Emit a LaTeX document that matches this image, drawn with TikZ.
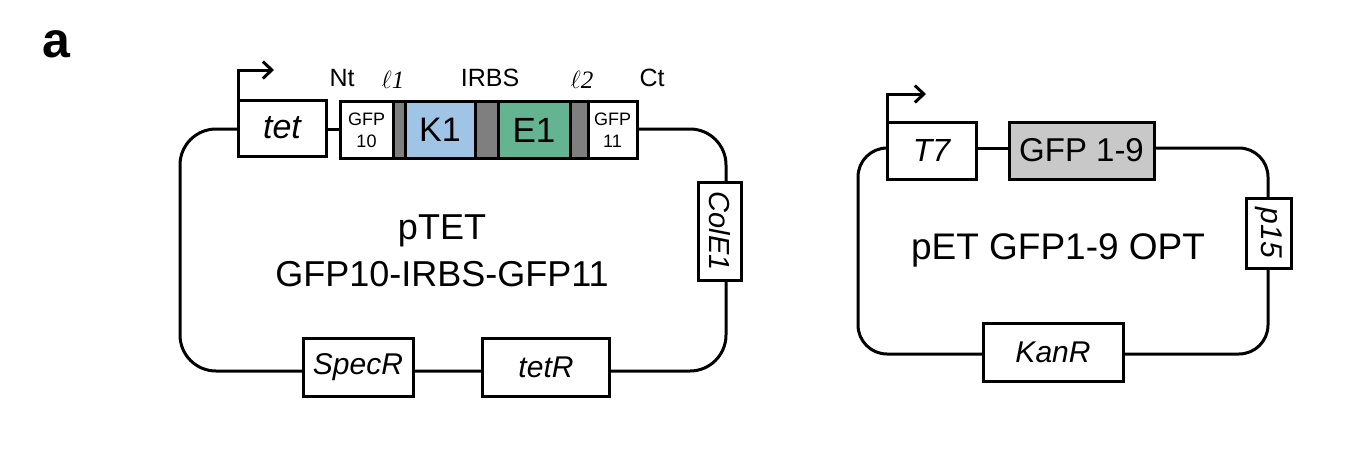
\documentclass[tikz,border=0pt]{standalone}
\usepackage{fontspec}
\setmainfont{Liberation Sans}
\newfontfamily\serifit{Liberation Serif}
\usetikzlibrary{arrows.meta}
\definecolor{kblue}{HTML}{A0C4E6}
\definecolor{egreen}{HTML}{64B491}
\definecolor{lgray}{HTML}{7F7F7F}
\definecolor{boxgray}{HTML}{C8C8C8}
\newcommand{\fs}[1]{\fontsize{#1}{#1}\selectfont}
\tikzset{
  bb/.style={line width=3pt, rounded corners=36pt},
  gbox/.style={draw, line width=3pt, fill=white, inner sep=0pt, font=\fs{30}\itshape},
  seg/.style={draw, line width=3pt, inner sep=0pt, minimum height=57pt},
  prom/.style={line width=3pt, -{Straight Barb[length=9pt,width=17pt,line width=3pt]}},
  lbl/.style={inner sep=0pt, font=\fs{25}},
}
\begin{document}
\begin{tikzpicture}[x=1pt,y=-1pt]
\useasboundingbox (0,0) rectangle (1370,466);
\node[font=\fs{50}\bfseries, inner sep=0pt] (a) at (56,44) {a};

% ---------- left plasmid ----------
\coordinate (L1) at (180,129);
\coordinate (L2) at (180,371);
\coordinate (L3) at (726,371);
\coordinate (L4) at (726,129);
\draw[bb] (282,129) -- (L1) -- (L2) -- (L3) -- (L4) -- (637,129);
\draw[line width=3pt] (326,129) -- (340,129);
\node[gbox, minimum width=88pt, minimum height=56pt, font=\fs{34}\itshape] (tet) at (282,128) {tet};
\node[seg, fill=white, minimum width=53pt, font=\fs{18}, align=center] (g10) at (366.5,130) {GFP\\[4pt]10};
\node[seg, fill=lgray, minimum width=12pt] (k1l) at (399,130) {};
\node[seg, fill=kblue, minimum width=70pt, font=\fs{34}] (k1) at (440,130) {K1};
\node[seg, fill=lgray, minimum width=23pt] (mid) at (486.5,130) {};
\node[seg, fill=egreen, minimum width=72pt, font=\fs{35}] (e1) at (534,130) {E1};
\node[seg, fill=lgray, minimum width=18pt] (e1r) at (579,130) {};
\node[seg, fill=white, minimum width=49pt, font=\fs{18}, align=center] (g11) at (612.5,130) {GFP\\[4pt]11};
\coordinate (tetarr) at (274,70);
\draw[prom] (tet.north west) ++(1.5,0) |- (tetarr);
\node[lbl] (nt) at (342,78) {Nt};
\node[lbl, font=\fs{25}\serifit\itshape] (l1) at (393,80) {$\ell$1};
\node[lbl] (irbs) at (490,78) {IRBS};
\node[lbl, font=\fs{25}\serifit\itshape] (l2) at (582,80) {$\ell$2};
\node[lbl] (ct) at (652,78) {Ct};
\node[gbox, minimum width=43pt, minimum height=98pt] (cole) at (720,231) {};
\node[rotate=-90, font=\fs{29}\itshape, inner sep=0pt] (coletxt) at (cole.center) {ColE1};
\node[gbox, minimum width=110pt, minimum height=58pt] (spec) at (358,367) {SpecR};
\node[gbox, minimum width=127pt, minimum height=58pt] (tetr) at (546,367) {tetR};
\node[font=\fs{36}, align=center, inner sep=0pt] (ptet) at (442,251) {pTET\\[11pt]GFP10-IRBS-GFP11};

% ---------- right plasmid ----------
\coordinate (R1) at (858,148);
\coordinate (R2) at (858,354);
\coordinate (R3) at (1268,354);
\coordinate (R4) at (1268,148);
\draw[bb, rounded corners=29pt] (930,148) -- (R1) -- (R2) -- (R3) -- (R4) -- (1154,148);
\draw[line width=3pt] (976,148) -- (1009,148);
\node[gbox, minimum width=89pt, minimum height=57pt, font=\fs{32}\itshape] (t7) at (931.5,150.5) {T7};
\node[seg, fill=boxgray, minimum width=145pt, minimum height=57pt, font=\fs{33}] (gfp19) at (1081.5,150.5) {GFP 1-9};
\coordinate (t7arr) at (926,94);
\draw[prom] (t7.north west) ++(1.5,0) |- (t7arr);
\node[gbox, minimum width=45pt, minimum height=70pt] (p15) at (1269,233) {};
\node[rotate=-90, font=\fs{30}\itshape, inner sep=0pt] (p15txt) at (p15.center) {p15};
\node[gbox, minimum width=140pt, minimum height=58pt] (kan) at (1053,352) {KanR};
\node[font=\fs{37}, inner sep=0pt] (pet) at (1058,250) {pET GFP1-9 OPT};
\end{tikzpicture}
\end{document}
